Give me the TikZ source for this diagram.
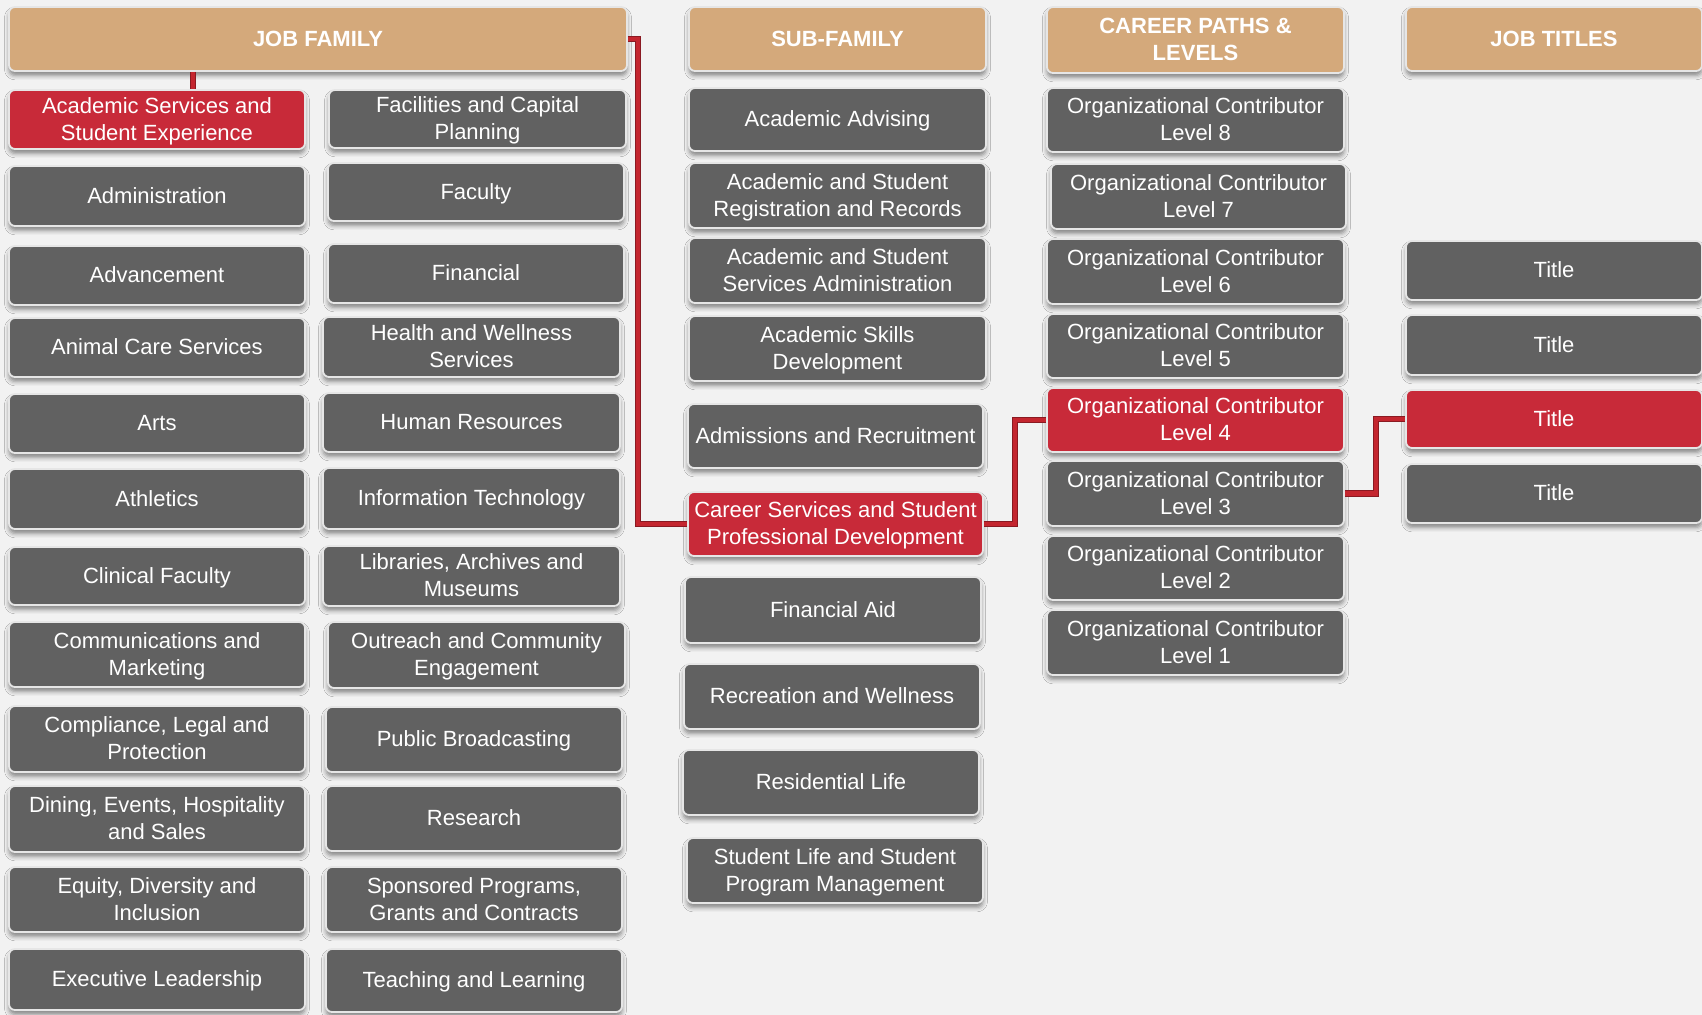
\documentclass[tikz,border=0pt]{standalone}
\usepackage{fontspec}
\setmainfont{Liberation Sans}
\usetikzlibrary{shadows.blur}
\definecolor{bgc}{HTML}{F2F2F2}
\definecolor{boxgray}{HTML}{616161}
\definecolor{boxred}{HTML}{C82A39}
\definecolor{boxtan}{HTML}{D4A97B}
\definecolor{linered}{HTML}{C4262F}
\definecolor{linedark}{HTML}{8A1A22}
\definecolor{rimc}{HTML}{E6E6E6}
\tikzset{
  base/.style={rounded corners=3pt, draw=rimc, line width=0.9pt, text=white,
    align=center, inner sep=1pt, font=\fontsize{11}{13.5}\selectfont,
    blur shadow={shadow xshift=0pt, shadow yshift=-2.2pt, shadow blur radius=2.2pt, shadow opacity=45}},
  gbox/.style={base, fill=boxgray},
  rbox/.style={base, fill=boxred},
  hbox/.style={base, fill=boxtan, font=\fontsize{11}{13.5}\selectfont\bfseries},
  connsh/.style={linedark, line width=3.2pt, line join=miter},
  conn/.style={linered, line width=2.4pt, line join=miter}
}
\newcommand\bx[7]{\node[#7, minimum width={(#4-#2)*0.5pt}, minimum height={(#5-#3)*0.5pt}] (#1) at ({(#2+#4)/2},{(#3+#5)/2}) {\raisebox{-1pt}[\height][\depth]{\begin{tabular}{@{}c@{}}#6\end{tabular}}};}
\begin{document}
\begin{tikzpicture}[x=0.5pt,y=-0.5pt]
\fill[bgc] (0,0) rectangle (1702,1015);
\useasboundingbox (0,0) rectangle (1702,1015);
% coordinates for connector bends
\coordinate (v1) at (193,0);
\coordinate (v2) at (638,0);
\coordinate (v3) at (1015,0);
\coordinate (v4) at (1376,0);
% headers
\bx{jf}{9}{7}{627}{71}{JOB FAMILY}{hbox}
\bx{sf}{689}{7}{986}{71}{SUB-FAMILY}{hbox}
\bx{cp}{1047}{7}{1344}{73}{CAREER PATHS \&\\LEVELS}{hbox}
\bx{jt}{1406}{7}{1702}{71}{JOB TITLES}{hbox}
% job family column 1
\bx{as}{9}{90}{305}{149}{Academic Services and\\Student Experience}{rbox}
\bx{adm}{9}{166}{305}{226}{Administration}{gbox}
\bx{adv}{9}{246}{305}{305}{Advancement}{gbox}
\bx{acs}{9}{318}{305}{377}{Animal Care Services}{gbox}
\bx{arts}{9}{394}{305}{453}{Arts}{gbox}
\bx{ath}{9}{469}{305}{529}{Athletics}{gbox}
\bx{cf}{9}{547}{305}{605}{Clinical Faculty}{gbox}
\bx{cm}{9}{622}{305}{687}{Communications and\\Marketing}{gbox}
\bx{clp}{9}{706}{305}{772}{Compliance, Legal and\\Protection}{gbox}
\bx{dehs}{9}{786}{305}{852}{Dining, Events, Hospitality\\and Sales}{gbox}
\bx{edi}{9}{867}{305}{932}{Equity, Diversity and\\Inclusion}{gbox}
\bx{el}{9}{949}{305}{1010}{Executive Leadership}{gbox}
% job family column 2
\bx{fcp}{329}{90}{626}{148}{Facilities and Capital\\Planning}{gbox}
\bx{fac}{328}{163}{624}{221}{Faculty}{gbox}
\bx{fin}{328}{244}{624}{303}{Financial}{gbox}
\bx{hws}{323}{317}{620}{377}{Health and Wellness\\Services}{gbox}
\bx{hr}{323}{393}{620}{452}{Human Resources}{gbox}
\bx{it}{323}{468}{620}{529}{Information Technology}{gbox}
\bx{lam}{323}{546}{620}{606}{Libraries, Archives and\\Museums}{gbox}
\bx{oce}{328}{622}{625}{688}{Outreach and Community\\Engagement}{gbox}
\bx{pb}{326}{707}{622}{772}{Public Broadcasting}{gbox}
\bx{res}{326}{786}{622}{851}{Research}{gbox}
\bx{spg}{326}{867}{622}{932}{Sponsored Programs,\\Grants and Contracts}{gbox}
\bx{tl}{326}{949}{622}{1012}{Teaching and Learning}{gbox}
% sub-family column
\bx{aa}{689}{88}{986}{151}{Academic Advising}{gbox}
\bx{asrr}{689}{163}{986}{228}{Academic and Student\\Registration and Records}{gbox}
\bx{assa}{689}{238}{986}{303}{Academic and Student\\Services Administration}{gbox}
\bx{asd}{689}{316}{986}{381}{Academic Skills\\Development}{gbox}
\bx{ar}{688}{404}{983}{468}{Admissions and Recruitment}{gbox}
\bx{cs}{688}{492}{983}{556}{Career Services and Student\\Professional Development}{rbox}
\bx{fa}{685}{577}{981}{643}{Financial Aid}{gbox}
\bx{rw}{684}{664}{980}{729}{Recreation and Wellness}{gbox}
\bx{rl}{683}{750}{979}{815}{Residential Life}{gbox}
\bx{slp}{687}{838}{983}{903}{Student Life and Student\\Program Management}{gbox}
% career paths column
\bx{l8}{1047}{88}{1344}{152}{Organizational Contributor\\Level 8}{gbox}
\bx{l7}{1051}{164}{1346}{229}{Organizational Contributor\\Level 7}{gbox}
\bx{l6}{1047}{239}{1344}{304}{Organizational Contributor\\Level 6}{gbox}
\bx{l5}{1047}{314}{1344}{378}{Organizational Contributor\\Level 5}{gbox}
\bx{l4}{1047}{388}{1344}{452}{Organizational Contributor\\Level 4}{rbox}
\bx{l3}{1047}{461}{1344}{526}{Organizational Contributor\\Level 3}{gbox}
\bx{l2}{1047}{536}{1344}{600}{Organizational Contributor\\Level 2}{gbox}
\bx{l1}{1047}{610}{1344}{675}{Organizational Contributor\\Level 1}{gbox}
% job titles column
\bx{t1}{1406}{241}{1702}{300}{Title}{gbox}
\bx{t2}{1406}{315}{1702}{375}{Title}{gbox}
\bx{t3}{1406}{390}{1702}{448}{Title}{rbox}
\bx{t4}{1406}{464}{1702}{523}{Title}{gbox}
% connectors
\draw[connsh] (v1 |- jf.south) -- (v1 |- as.north);
\draw[conn] (v1 |- jf.south) -- (v1 |- as.north);
\draw[connsh] (jf.east) -- (jf.east -| v2) -- (cs.west -| v2) -- (cs.west);
\draw[conn] (jf.east) -- (jf.east -| v2) -- (cs.west -| v2) -- (cs.west);
\draw[connsh] (cs.east) -- (cs.east -| v3) -- (l4.west -| v3) -- (l4.west);
\draw[conn] (cs.east) -- (cs.east -| v3) -- (l4.west -| v3) -- (l4.west);
\draw[connsh] (l3.east) -- (l3.east -| v4) -- (t3.west -| v4) -- (t3.west);
\draw[conn] (l3.east) -- (l3.east -| v4) -- (t3.west -| v4) -- (t3.west);
\end{tikzpicture}
\end{document}
